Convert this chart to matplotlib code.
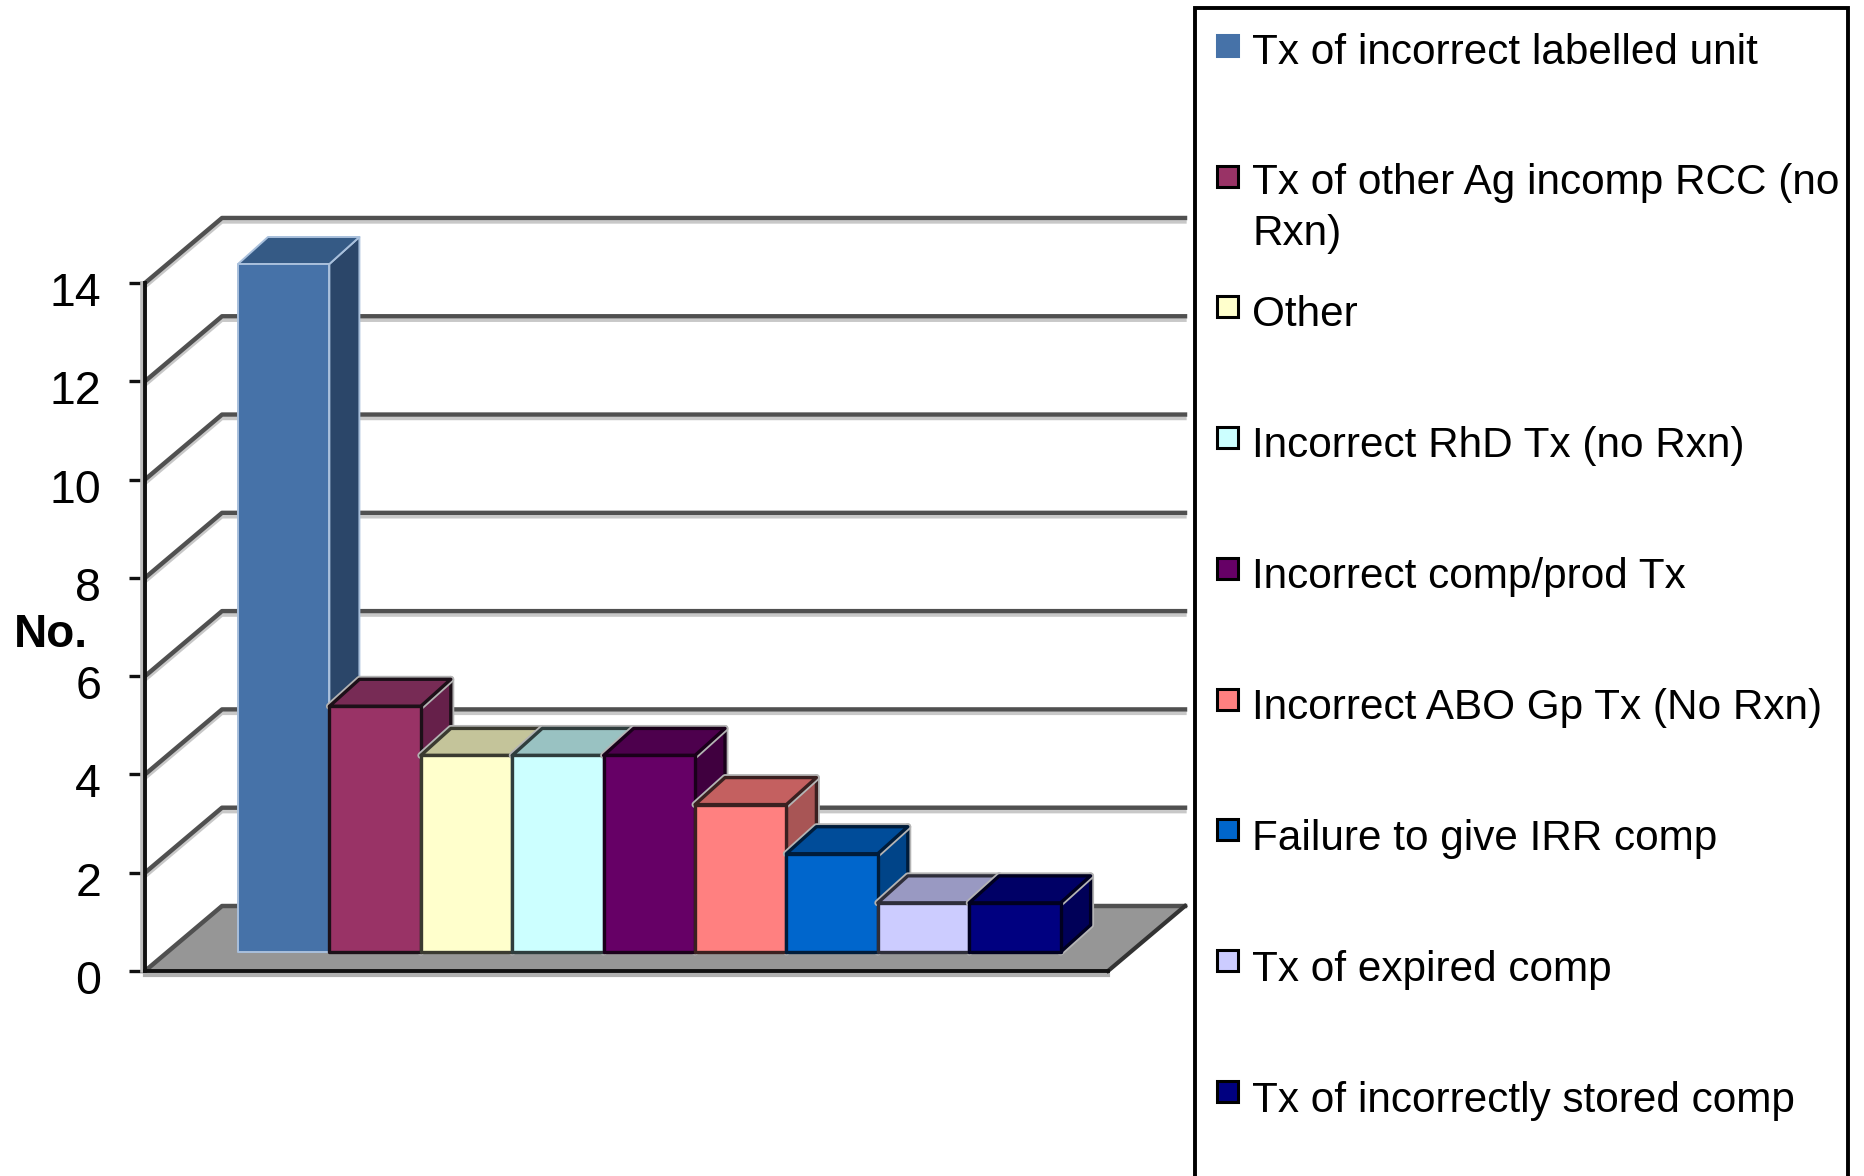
import numpy as np
import matplotlib
matplotlib.use('Agg')
import matplotlib.pyplot as plt
import matplotlib.patheffects as pe
from matplotlib.patches import Rectangle
from matplotlib.transforms import ScaledTranslation

plt.rcParams['font.family'] = ['Liberation Sans', 'DejaVu Sans']

labels = ['Tx of incorrect labelled unit', 'Tx of other Ag incomp RCC (no\nRxn)', 'Other',
          'Incorrect RhD Tx (no Rxn)', 'Incorrect comp/prod Tx', 'Incorrect ABO Gp Tx (No Rxn)',
          'Failure to give IRR comp', 'Tx of expired comp', 'Tx of incorrectly stored comp']
values = [14, 5, 4, 4, 4, 3, 2, 1, 1]
y_ticks = [0, 2, 4, 6, 8, 10, 12, 14]

front_colors = ['#4672a8', '#993366', '#ffffcc', '#ccffff', '#660066', '#ff8080', '#0066cc', '#ccccff', '#000080']
top_colors = ['#355a85', '#772b55', '#c4c49a', '#99c2c2', '#4d004d', '#c46060', '#004c99', '#9999c2', '#000066']
side_colors = ['#2b4669', '#66204a', '#9f9f7f', '#7fa0a0', '#40003f', '#a85555', '#004488', '#7f7fa0', '#000058']
edge_colors = ['#a9c0dc', '#1c1018', '#3a3a30', '#2f3d3d', '#1a001a', '#3a2020', '#001c3a', '#2e2e3a', '#000020']

W, H = 1864, 1176
# one category and one y unit, in pixels
ux, uy = 91.4, 49.14
fig = plt.figure(figsize=(W / 100, H / 100), dpi=100, facecolor='white')
ax = fig.add_axes([145 / W, (H - 971) / H, 963 / W, 688 / H])
xmax = 963 / ux
ax.set_xlim(0, xmax)
ax.set_ylim(0, 14)

# oblique offsets for the 3d look
wall_dx, wall_dy = 77 / ux, 65 / uy
bar_dx, bar_dy = 30 / ux, 27 / uy
bar_base = 19 / uy
first_bar = 93 / ux

# floor
ax.fill([0, wall_dx, xmax + wall_dx, xmax], [0, wall_dy, wall_dy, 0],
        color='#969696', lw=0, clip_on=False, zorder=1)

# gridlines running up the wall and along the back
for v in y_ticks:
    xs = [0, wall_dx, xmax + wall_dx]
    ys = [v, v + wall_dy, v + wall_dy]
    if v > 0:
        ax.plot(xs, [y - 4 / uy for y in ys], color='#c8c8c8', lw=2.4, clip_on=False, zorder=2)
    ax.plot(xs, ys, color='#505050', lw=3.2, clip_on=False, zorder=3, solid_joinstyle='round')
ax.plot([-3.5 / ux, -3.5 / ux], [0, 14], color='#bdbdbd', lw=2.6, clip_on=False, zorder=3)
ax.plot([0, xmax], [-4 / uy, -4 / uy], color='#b0b0b0', lw=3, clip_on=False, zorder=3)
ax.plot([xmax, xmax + wall_dx], [0, wall_dy], color='#333333', lw=3, clip_on=False, zorder=5)

halo = [pe.withStroke(linewidth=5, foreground='#b4b4b4')]
for i, v in enumerate(values):
    left = first_bar + i
    right = left + 1
    top = bar_base + v
    z = 10 + i
    lw = 2.4 if i else 1.4
    side = ax.fill([right, right + bar_dx, right + bar_dx, right],
                   [bar_base, bar_base + bar_dy, top + bar_dy, top],
                   facecolor=side_colors[i], edgecolor=edge_colors[i], lw=lw, joinstyle='round',
                   clip_on=False, zorder=z)[0]
    roof = ax.fill([left, left + bar_dx, right + bar_dx, right],
                   [top, top + bar_dy, top + bar_dy, top],
                   facecolor=top_colors[i], edgecolor=edge_colors[i], lw=lw, joinstyle='round',
                   clip_on=False, zorder=z)[0]
    if i:
        side.set_path_effects(halo)
        roof.set_path_effects(halo)
    ax.bar(left, v, width=1, bottom=bar_base, align='edge', color=front_colors[i],
           edgecolor=edge_colors[i], lw=lw, joinstyle='round', clip_on=False, zorder=z + 0.5)

ax.set_xticks([])
ax.set_yticks(y_ticks)
ax.tick_params(axis='y', length=11.5, width=2.4, color='#111111', labelsize=33.5, pad=20)
for lab in ax.get_yticklabels():
    lab.set_transform(lab.get_transform() + ScaledTranslation(0, -6 / 100, fig.dpi_scale_trans))
ax.spines['top'].set_visible(False)
ax.spines['right'].set_visible(False)
ax.spines['left'].set_linewidth(2.8)
ax.spines['bottom'].set_linewidth(2.8)
ax.spines['left'].set_color('#111111')
ax.spines['bottom'].set_color('#111111')
ax.spines['left'].set_zorder(30)
ax.spines['bottom'].set_zorder(30)
ax.set_ylabel('No.', rotation=0, fontsize=33, fontweight='bold', va='center', ha='left')
ax.yaxis.set_label_coords((14 - 145) / 963, (971 - 635) / 688)

# legend box, runs off the bottom edge, drawn in pixels
lg = fig.add_axes([0, 0, 1, 1])
lg.set_xlim(0, W)
lg.set_ylim(H, 0)
lg.axis('off')
lg.plot([1195, 1195, 1848, 1848], [H + 5, 8, 8, H + 5], color='black', lw=2.8, solid_joinstyle='miter')
for i, name in enumerate(labels):
    ym = 45 + i * 130.7
    edge = front_colors[i] if i == 0 else 'black'
    lg.add_patch(Rectangle((1217, ym - 10), 21, 21, facecolor=front_colors[i], edgecolor=edge, lw=2.2))
    # multi-line text sits on its last baseline
    extra = name.count('\n') * 50
    lg.text(1252, 64 + i * 131 + extra, name, fontsize=30.4, va='baseline', ha='left', color='black', linespacing=1.36)

fig.savefig('out.png', dpi=100, facecolor='white')
